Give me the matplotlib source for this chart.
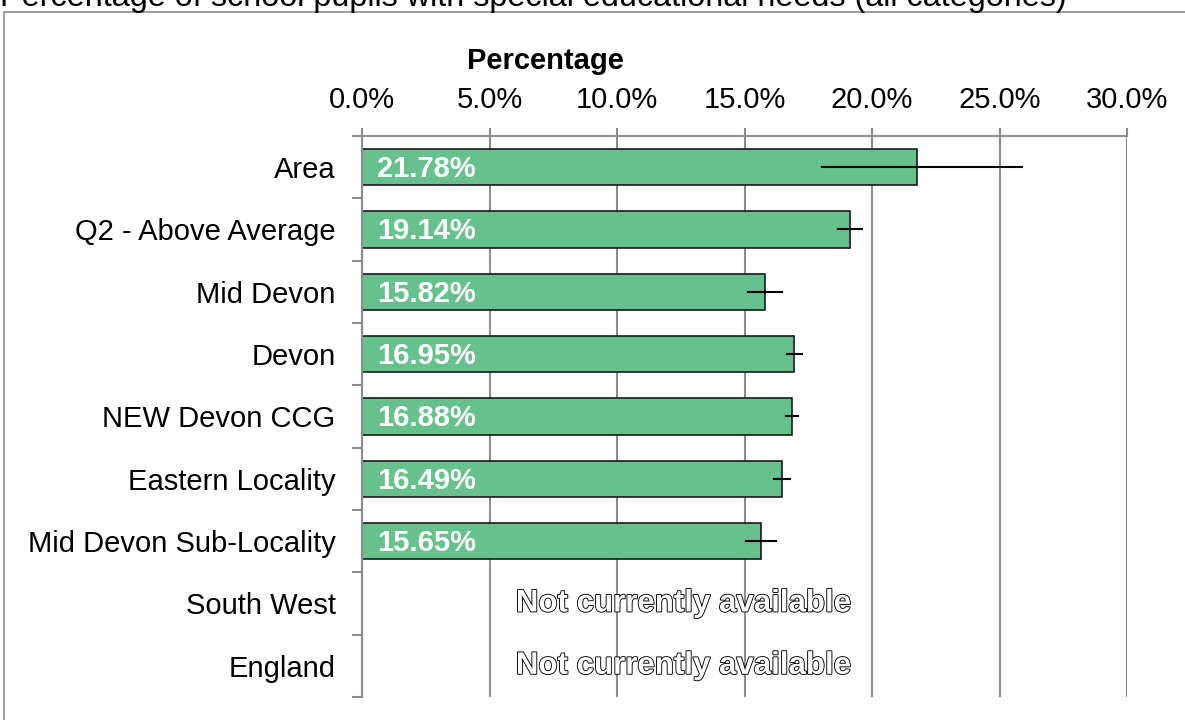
import matplotlib.pyplot as plt
import matplotlib.patheffects as pe
from matplotlib.patches import Rectangle
from matplotlib.ticker import FuncFormatter

# data
categories = ["Area", "Q2 - Above Average", "Mid Devon", "Devon", "NEW Devon CCG",
              "Eastern Locality", "Mid Devon Sub-Locality", "South West", "England"]
values = [21.78, 19.14, 15.82, 16.95, 16.88, 16.49, 15.65, None, None]
ci_low = [18.04, 18.67, 15.14, 16.67, 16.63, 16.16, 15.06, None, None]
ci_high = [25.88, 19.60, 16.47, 17.25, 17.10, 16.78, 16.24, None, None]
xticks = [0, 5, 10, 15, 20, 25, 30]

bar_color = "#66C18C"
grid_color = "#8c8c8c"

plt.rcParams['font.family'] = ['Liberation Sans', 'DejaVu Sans']

fig = plt.figure(figsize=(11.85, 7.2), dpi=100, facecolor='white')
ax = fig.add_axes([362/1185, 1 - 697/720, (1127 - 362)/1185, (697 - 136)/720])

# outer frame and title (cut by the top edge, as in the source)
fig.patches.append(Rectangle((4/1185, -0.1), 1.2, 1 - 12/720 + 0.1, transform=fig.transFigure,
                             fill=False, edgecolor='#a0a0a0', linewidth=1.5))
fig.text(0, 1 - 6/720, "Percentage of school pupils with special educational needs (all categories)",
         fontsize=23.3, ha='left', va='baseline')

ypos = list(range(len(categories)))
for i, (v, lo, hi) in enumerate(zip(values, ci_low, ci_high)):
    if v is None:
        # hollow outlined text
        t = ax.text(12.6, i, "Not currently available", ha='center', va='center',
                    fontsize=22.5, fontweight='bold', color='white')
        t.set_path_effects([pe.Stroke(linewidth=1.3, foreground='black'), pe.Normal()])
        continue
    ax.barh(i, v, height=0.58, color=bar_color, edgecolor='#1a1a1a', linewidth=1.2, zorder=2)
    ax.plot([lo, hi], [i, i], color='black', linewidth=1.5, zorder=3)
    ax.text(0.6, i + 0.03, f"{v:.2f}%", ha='left', va='center', fontsize=21,
            fontweight='bold', color='white', zorder=4)

ax.set_xlim(0, 30)
ax.set_ylim(len(categories) - 0.5, -0.5)
ax.set_xticks(xticks)
ax.xaxis.set_major_formatter(FuncFormatter(lambda x, p: f"{x:.1f}%"))
ax.xaxis.tick_top()
ax.tick_params(axis='x', colors=grid_color, labelcolor='black', labelsize=21,
               length=6, width=1.5, pad=10)
ax.grid(axis='x', color=grid_color, linewidth=1.5, zorder=0)

# y ticks at category boundaries, labels at centres
ax.set_yticks(ypos)
ax.set_yticklabels(categories, fontsize=21)
ax.set_yticks([y - 0.5 for y in range(len(categories) + 1)], minor=True)
ax.tick_params(axis='y', which='major', length=0, pad=19)
ax.tick_params(axis='y', which='minor', length=7, width=1.5, colors=grid_color)

for s in ['right', 'bottom']:
    ax.spines[s].set_visible(False)
for s in ['left', 'top']:
    ax.spines[s].set_color(grid_color)
    ax.spines[s].set_linewidth(1.5)

fig.text(545/1185, 1 - 61/720, "Percentage", fontsize=21, fontweight='bold',
         ha='center', va='center')

fig.savefig("out.png", dpi=100, facecolor='white')
